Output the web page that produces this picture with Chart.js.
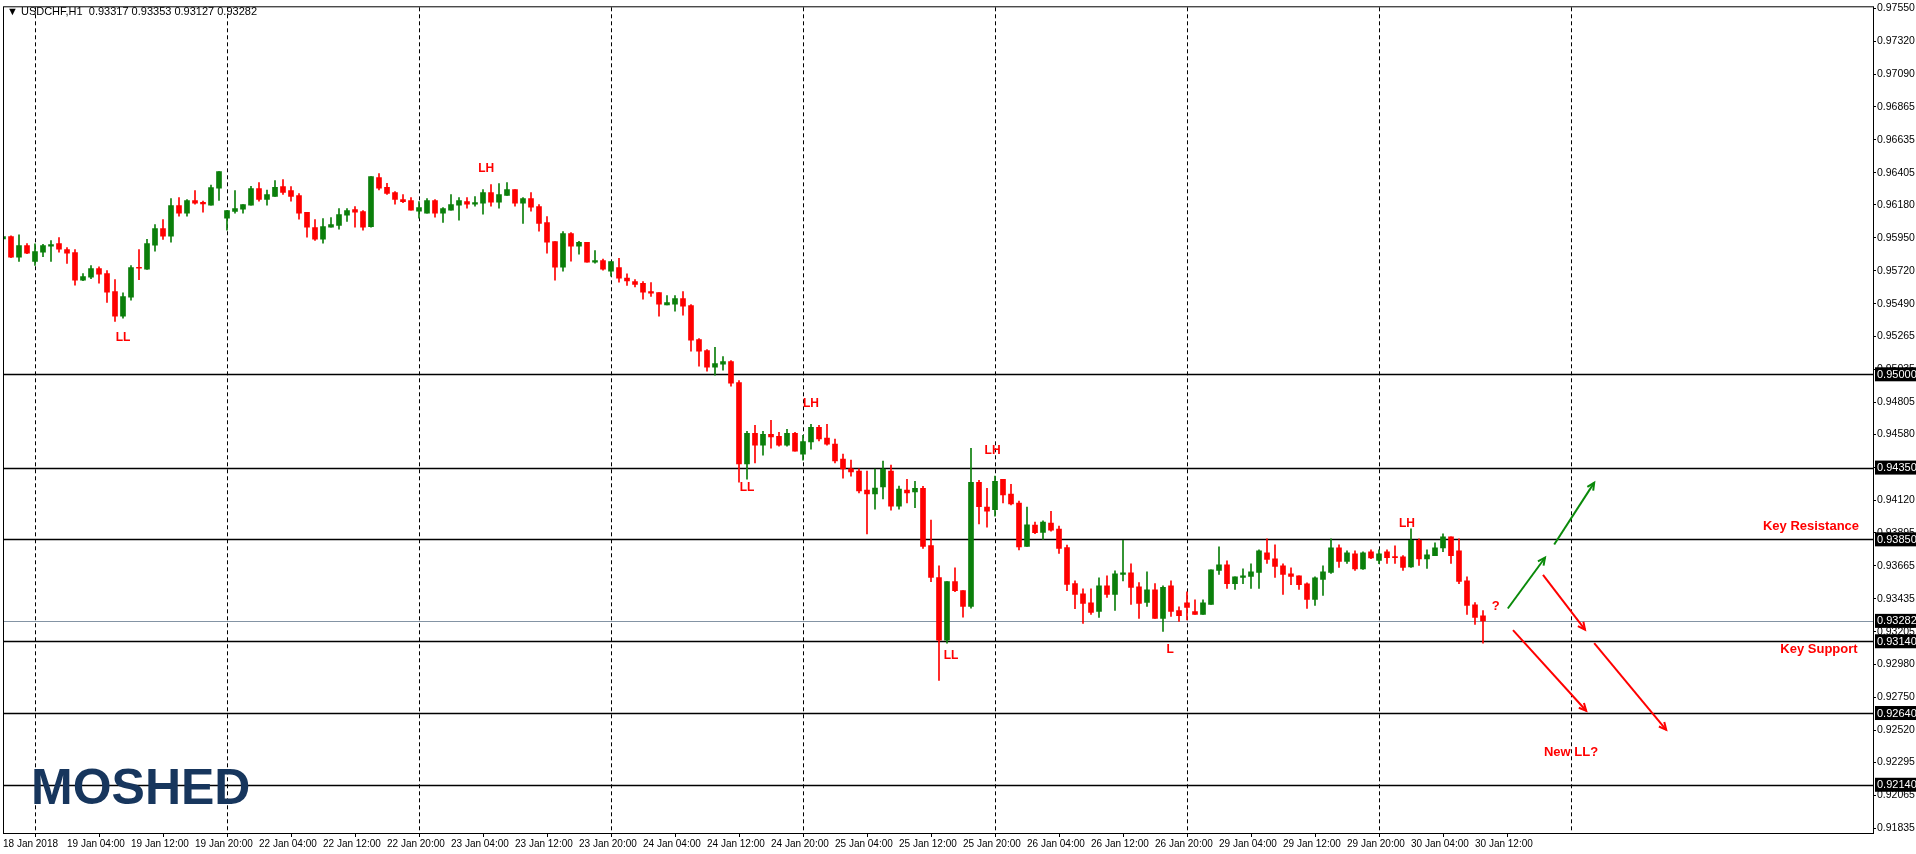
<!DOCTYPE html>
<html><head><meta charset="utf-8">
<script src="https://cdn.jsdelivr.net/npm/chart.js@4.4.1/dist/chart.umd.min.js"></script>
<style>html,body{margin:0;padding:0;background:#fff;overflow:hidden}</style>
</head><body>
<canvas id="c" width="1916" height="854"></canvas>
<script>
const openP = [
.95943,.95960,.95816,.95897,.95786,.95851,.95892,.95911,.95869,.95848,
.95656,.95677,.95737,.95702,.95577,.95405,.95537,.95746,.95732,.95899,
.96015,.95962,.96175,.96122,.96210,.96199,.96178,.96296,.96087,.96134,
.96150,.96178,.96294,.96219,.96240,.96308,.96280,.96245,.96129,.96022,
.95941,.96025,.96038,.96108,.96148,.96134,.96029,.96370,.96303,.96266,
.96217,.96210,.96136,.96122,.96210,.96122,.96143,.96178,.96203,.96185,
.96192,.96266,.96199,.96247,.96287,.96192,.96224,.96168,.96057,.95925,
.95746,.95980,.95892,.95920,.95781,.95793,.95718,.95744,.95670,.95646,
.95634,.95576,.95569,.95484,.95488,.95528,.95479,.95242,.95166,.95050,
.95071,.95089,.94943,.94375,.94588,.94507,.94581,.94567,.94507,.94588,
.94444,.94528,.94630,.94556,.94514,.94409,.94342,.94326,.94194,.94166,
.94215,.94326,.94082,.94193,.94181,.94206,.93807,.93583,.93148,.93555,
.93493,.93383,.94248,.94074,.94056,.94269,.94165,.94102,.93800,.93949,
.93898,.93963,.93921,.93793,.93541,.93471,.93408,.93348,.93527,.93466,
.93605,.93617,.93520,.93411,.93499,.93299,.93527,.93353,.93408,.93346,
.93327,.93397,.93633,.93672,.93542,.93584,.93591,.93619,.93756,.93714,
.93665,.93610,.93596,.93540,.93431,.93570,.93619,.93791,.93696,.93749,
.93644,.93763,.93703,.93763,.93728,.93728,.93658,.93844,.93714,.93737,
.93791,.93867,.93770,.93561,.93394,.93317];
const highP = [
.96029,.95964,.95971,.95911,.95909,.95906,.95932,.95953,.95883,.95869,
.95702,.95758,.95748,.95723,.95660,.95568,.95758,.95869,.95941,.96043,
.96078,.96224,.96231,.96217,.96280,.96206,.96319,.96412,.96141,.96280,
.96182,.96310,.96335,.96284,.96349,.96356,.96308,.96259,.96129,.96078,
.96085,.96092,.96154,.96154,.96168,.96141,.96377,.96398,.96331,.96273,
.96252,.96231,.96203,.96224,.96217,.96161,.96252,.96231,.96231,.96238,
.96287,.96322,.96328,.96335,.96287,.96231,.96266,.96182,.96099,.95925,
.95994,.95987,.95927,.95920,.95862,.95802,.95786,.95808,.95700,.95660,
.95646,.95639,.95569,.95549,.95549,.95576,.95486,.95249,.95173,.95187,
.95124,.95096,.94957,.94602,.94644,.94602,.94679,.94595,.94616,.94595,
.94574,.94651,.94644,.94651,.94549,.94444,.94402,.94342,.94326,.94340,
.94396,.94368,.94222,.94269,.94255,.94220,.93984,.93666,.93555,.93652,
.93493,.94485,.94262,.94206,.94290,.94269,.94234,.94116,.94074,.93970,
.93979,.94046,.93942,.93810,.93561,.93506,.93506,.93582,.93596,.93631,
.93844,.93680,.93548,.93624,.93541,.93527,.93561,.93380,.93485,.93429,
.93429,.93638,.93798,.93700,.93589,.93645,.93679,.93777,.93853,.93812,
.93679,.93651,.93596,.93547,.93589,.93665,.93853,.93812,.93770,.93770,
.93763,.93777,.93777,.93777,.93805,.93737,.93923,.93853,.93777,.93825,
.93888,.93867,.93853,.93589,.93410,.93353];
const lowP = [
.95883,.95813,.95786,.95841,.95758,.95820,.95786,.95851,.95772,.95621,
.95653,.95667,.95635,.95500,.95368,.95391,.95516,.95660,.95730,.95858,
.95939,.95920,.96101,.96101,.96185,.96129,.96178,.96212,.96004,.96122,
.96122,.96178,.96206,.96178,.96240,.96254,.96206,.96080,.95955,.95932,
.95913,.96025,.96011,.96066,.96025,.96004,.96025,.96284,.96254,.96185,
.96196,.96143,.96087,.96122,.96094,.96059,.96143,.96073,.96157,.96171,
.96115,.96171,.96157,.96247,.96171,.96052,.96136,.95997,.95844,.95656,
.95718,.95788,.95837,.95781,.95774,.95725,.95684,.95642,.95620,.95609,
.95523,.95542,.95405,.95484,.95440,.95412,.95161,.95057,.95022,.94994,
.95029,.94918,.94249,.94270,.94382,.94437,.94486,.94500,.94500,.94465,
.94402,.94479,.94535,.94507,.94382,.94277,.94291,.94173,.93887,.94061,
.94131,.94054,.94060,.94104,.94070,.93786,.93555,.92867,.93127,.93486,
.93307,.93371,.93958,.93935,.94012,.94104,.94090,.93777,.93800,.93889,
.93850,.93907,.93752,.93492,.93367,.93264,.93327,.93306,.93445,.93355,
.93561,.93397,.93299,.93383,.93299,.93209,.93313,.93278,.93288,.93327,
.93327,.93397,.93605,.93508,.93501,.93542,.93508,.93508,.93682,.93584,
.93466,.93535,.93501,.93368,.93389,.93459,.93612,.93654,.93682,.93633,
.93640,.93716,.93680,.93682,.93682,.93633,.93654,.93668,.93647,.93737,
.93765,.93682,.93542,.93327,.93257,.93127];
const closeP = [
.95960,.95816,.95897,.95844,.95855,.95897,.95904,.95871,.95844,.95656,
.95681,.95737,.95697,.95572,.95405,.95542,.95744,.95739,.95911,.96015,
.95962,.96175,.96122,.96210,.96192,.96187,.96301,.96412,.96141,.96154,
.96182,.96294,.96219,.96252,.96303,.96268,.96240,.96122,.96025,.95941,
.96029,.96043,.96113,.96141,.96129,.96025,.96377,.96296,.96261,.96219,
.96203,.96143,.96161,.96210,.96122,.96154,.96182,.96210,.96185,.96196,
.96266,.96199,.96252,.96287,.96192,.96224,.96164,.96052,.95920,.95746,
.95980,.95892,.95920,.95781,.95793,.95732,.95786,.95670,.95650,.95627,
.95572,.95565,.95488,.95500,.95528,.95474,.95238,.95161,.95050,.95075,
.95089,.94938,.94375,.94588,.94507,.94581,.94563,.94507,.94588,.94465,
.94532,.94630,.94549,.94514,.94396,.94340,.94319,.94187,.94166,.94208,
.94340,.94082,.94201,.94174,.94206,.93801,.93585,.93148,.93555,.93493,
.93383,.94248,.94077,.94046,.94255,.94160,.94097,.93798,.93951,.93896,
.93970,.93914,.93786,.93536,.93466,.93404,.93341,.93527,.93466,.93610,
.93617,.93515,.93404,.93499,.93299,.93515,.93348,.93318,.93376,.93327,
.93408,.93638,.93672,.93542,.93589,.93596,.93624,.93770,.93710,.93661,
.93605,.93591,.93535,.93431,.93582,.93624,.93791,.93696,.93756,.93644,
.93756,.93721,.93749,.93723,.93723,.93654,.93844,.93714,.93742,.93791,
.93867,.93737,.93556,.93389,.93306,.93282];
const timeLabels = ["18 Jan 2018","19 Jan 04:00","19 Jan 12:00","19 Jan 20:00","22 Jan 04:00","22 Jan 12:00","22 Jan 20:00","23 Jan 04:00","23 Jan 12:00","23 Jan 20:00","24 Jan 04:00","24 Jan 12:00","24 Jan 20:00","25 Jan 04:00","25 Jan 12:00","25 Jan 20:00","26 Jan 04:00","26 Jan 12:00","26 Jan 20:00","29 Jan 04:00","29 Jan 12:00","29 Jan 20:00","30 Jan 04:00","30 Jan 12:00"];
const priceTicks = [0.97550,0.97320,0.97090,0.96865,0.96635,0.96405,0.96180,0.95950,0.95720,0.95490,0.95265,0.95035,0.94805,0.94580,0.94350,0.94120,0.93895,0.93665,0.93435,0.93205,0.92980,0.92750,0.92520,0.92295,0.92065,0.91835];
const levels = [0.95000,0.94350,0.93850,0.93140,0.92640,0.92140];
const bidLevel = 0.93282;
const dayLines = [4,28,52,76,100,124,148,172,196];
// annotations: [text, barIndex, price, fontSize]
const notes = [["LL",15,0.95257,12],["LH",60.4,0.96431,12],["LL",93,0.94208,12],["LH",101,0.94792,12],
 ["LH",123.7,0.94465,12],["LL",118.5,0.93041,12],["L",145.9,0.93082,12],["LH",175.5,0.93958,12],["?",186.6,0.93381,13],
 ["Key Resistance",226,0.93937,13],["Key Support",227,0.93082,13],["New LL?",196,0.92367,13]];
// arrows: [x0,p0,x1,p1,color]
const arrows = [[188.1,0.93368,192.75,0.93722,'#0a8a0a'],[193.9,0.93814,198.9,0.94245,'#0a8a0a'],
 [192.5,0.93603,197.75,0.93221,'#ff0000'],[188.75,0.93218,197.9,0.92656,'#ff0000'],[198.9,0.93127,207.9,0.92523,'#ff0000']];

const GREEN='#0b7f0b', RED='#ff0000';
const idx = openP.map((_,i)=>i);
const cols = idx.map(i=>closeP[i]>=openP[i]?GREEN:RED);
const bodies = idx.map(i=>({x:i,y:[openP[i],closeP[i]]}));
const wicks = idx.map(i=>({x:i,y:[lowP[i],highP[i]]}));
const FONT='"Liberation Sans", Arial, sans-serif';

const overlay = {
  id:'overlay',
  beforeDatasetsDraw(chart){
    const {ctx, chartArea:a, scales:{x,y}} = chart;
    ctx.save();
    ctx.strokeStyle='#000'; ctx.lineWidth=1; ctx.setLineDash([4,3]);
    dayLines.forEach(v=>{const px=Math.round(x.getPixelForValue(v))+0.5;ctx.beginPath();ctx.moveTo(px,a.top);ctx.lineTo(px,a.bottom);ctx.stroke();});
    ctx.setLineDash([]);
    ctx.strokeStyle='#000'; ctx.lineWidth=1.4;
    levels.forEach(v=>{const py=Math.round(y.getPixelForValue(v))+0.5;ctx.beginPath();ctx.moveTo(a.left,py);ctx.lineTo(a.right,py);ctx.stroke();});
    ctx.strokeStyle='#8494a4'; ctx.lineWidth=1.2;
    const by=Math.round(y.getPixelForValue(bidLevel))+0.5;ctx.beginPath();ctx.moveTo(a.left,by);ctx.lineTo(a.right,by);ctx.stroke();
    ctx.restore();
  },
  afterDraw(chart){
    const {ctx, chartArea:a, scales:{x,y}} = chart;
    ctx.save();
    ctx.strokeStyle='#000'; ctx.lineWidth=1;
    ctx.strokeRect(a.left+0.5,a.top-0.5,a.right-a.left,a.bottom-a.top+1);
    ctx.font='11px '+FONT; ctx.textBaseline='middle'; ctx.textAlign='left';
    [...levels,bidLevel].forEach(v=>{const py=y.getPixelForValue(v);
      ctx.fillStyle='#000';ctx.fillRect(a.right+2,py-7,41,14);
      ctx.fillStyle='#fff';ctx.fillText(v.toFixed(5),a.right+4,py+0.5);});
    arrows.forEach(([x0,p0,x1,p1,c])=>{
      const X0=x.getPixelForValue(x0),Y0=y.getPixelForValue(p0),X1=x.getPixelForValue(x1),Y1=y.getPixelForValue(p1);
      ctx.strokeStyle=c;ctx.lineWidth=2;ctx.beginPath();ctx.moveTo(X0,Y0);ctx.lineTo(X1,Y1);ctx.stroke();
      const ang=Math.atan2(Y1-Y0,X1-X0),h=8;
      ctx.beginPath();ctx.moveTo(X1-h*Math.cos(ang-0.45),Y1-h*Math.sin(ang-0.45));ctx.lineTo(X1,Y1);
      ctx.lineTo(X1-h*Math.cos(ang+0.45),Y1-h*Math.sin(ang+0.45));ctx.stroke();
    });
    ctx.fillStyle='#ff0000';ctx.textAlign='center';
    notes.forEach(([t,bi,p,fs])=>{ctx.font='bold '+fs+'px '+FONT;ctx.fillText(t,x.getPixelForValue(bi),y.getPixelForValue(p));});
    ctx.fillStyle='#000';ctx.textAlign='left';ctx.font='11px '+FONT;
    ctx.fillText('\u25BC USDCHF,H1  '+[openP,highP,lowP,closeP].map(s=>s[s.length-1].toFixed(5)).join(' '),7,12);
    ctx.fillStyle='#17365d';ctx.font='bold 50px '+FONT;ctx.textBaseline='alphabetic';
    ctx.fillText('MOSHED',31,804);
    ctx.restore();
  }
};

new Chart(document.getElementById('c'),{
  type:'bar',
  data:{datasets:[
    {data:bodies,backgroundColor:cols,barThickness:5,minBarLength:1,grouped:false},
    {data:wicks,backgroundColor:cols,barThickness:1,grouped:false}
  ]},
  options:{
    responsive:false,animation:false,devicePixelRatio:1,
    layout:{padding:{left:3,top:5,right:0,bottom:0}},
    plugins:{legend:{display:false},tooltip:{enabled:false}},
    scales:{
      x:{type:'linear',min:0,max:233.75,position:'bottom',offset:false,
        afterBuildTicks(s){s.ticks=timeLabels.map((_,k)=>({value:k*8}));},
        afterFit(s){s.height=21;},
        grid:{drawOnChartArea:false,drawTicks:true,tickLength:4,color:'#000'},
        border:{display:false},
        ticks:{autoSkip:false,maxRotation:0,align:'start',padding:1,color:'#000',font:{family:FONT,size:10},
          callback:(v)=>timeLabels[Math.round(v/8)]}},
      y:{position:'right',min:0.91804,max:0.97557,
        afterBuildTicks(s){s.ticks=priceTicks.map(v=>({value:v}));},
        afterFit(s){s.width=43;},
        grid:{drawOnChartArea:false,drawTicks:true,tickLength:3,color:'#000'},
        border:{display:false},
        ticks:{padding:1,color:'#000',font:{family:FONT,size:10.5},callback:v=>v.toFixed(5)}}
    }
  },
  plugins:[overlay]
});
</script>
</body></html>
